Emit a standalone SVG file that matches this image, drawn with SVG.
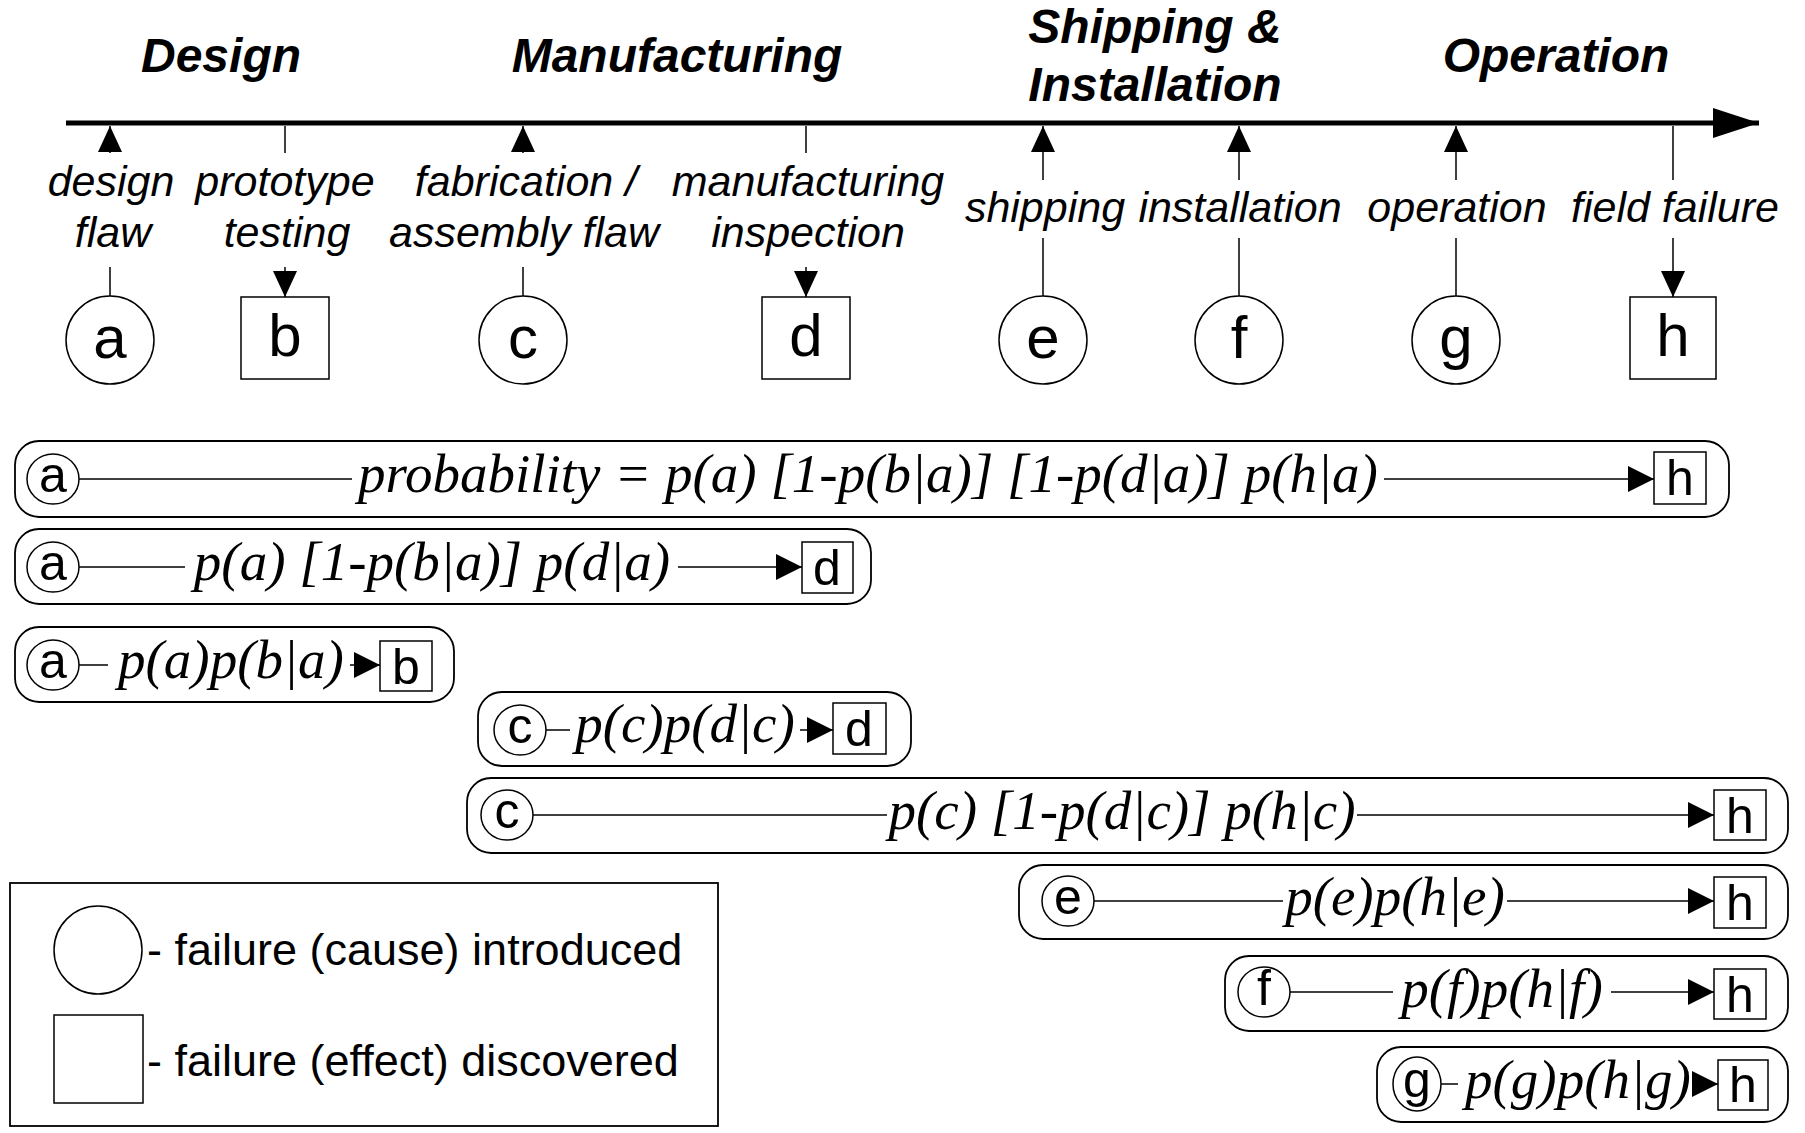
<svg xmlns="http://www.w3.org/2000/svg" width="1805" height="1133" viewBox="0 0 1805 1133">
<style>
.bg{fill:#fff}
.title{font-family:"Liberation Sans",Arial,sans-serif;font-weight:bold;font-style:italic;font-size:48px;fill:#000;text-anchor:middle}
.lbl{font-family:"Liberation Sans",Arial,sans-serif;font-style:italic;font-size:43px;fill:#000;text-anchor:middle}
.node{fill:#fff;stroke:#000;stroke-width:1.5}
.nlet{font-family:"Liberation Sans",Arial,sans-serif;font-size:60px;fill:#000;text-anchor:middle}
.slet{font-family:"Liberation Sans",Arial,sans-serif;font-size:50px;fill:#000;text-anchor:middle}
.box{fill:none;stroke:#000;stroke-width:1.8}
.fml{font-family:"Liberation Serif","Times New Roman",serif;font-style:italic;font-size:55px;fill:#000;text-anchor:middle}
.leg{font-family:"Liberation Sans",Arial,sans-serif;font-size:45px;fill:#000}
.ln{stroke:#000;stroke-width:1.5;fill:none}
.tl{stroke:#000;stroke-width:5;fill:none}
</style>
<defs>
<marker id="big" markerUnits="userSpaceOnUse" markerWidth="46" markerHeight="30" refX="46" refY="15" orient="auto"><path d="M0,0 L46,15 L0,30 z" fill="#000"/></marker>
<marker id="ah" markerUnits="userSpaceOnUse" markerWidth="26" markerHeight="24" refX="26" refY="12" orient="auto"><path d="M0,0 L26,12 L0,24 z" fill="#000"/></marker>
<marker id="sh" markerUnits="userSpaceOnUse" markerWidth="26" markerHeight="26" refX="26" refY="13" orient="auto"><path d="M0,0 L26,13 L0,26 z" fill="#000"/></marker>
</defs>
<rect class="bg" x="0" y="0" width="1805" height="1133"/>

<g id="phases">
<text class="title" x="221" y="72">Design</text>
<text class="title" x="677" y="72">Manufacturing</text>
<text class="title" x="1155" y="43">Shipping &amp;</text>
<text class="title" x="1155" y="101">Installation</text>
<text class="title" x="1556" y="72">Operation</text>
</g>

<g id="labels">
<text class="lbl" x="111" y="196">design</text>
<text class="lbl" x="113" y="247">flaw</text>
<text class="lbl" x="285" y="196">prototype</text>
<text class="lbl" x="287" y="247">testing</text>
<text class="lbl" x="526" y="196">fabrication /</text>
<text class="lbl" x="524" y="247">assembly flaw</text>
<text class="lbl" x="808" y="196">manufacturing</text>
<text class="lbl" x="808" y="247">inspection</text>
<text class="lbl" x="1045" y="222">shipping</text>
<text class="lbl" x="1240" y="222">installation</text>
<text class="lbl" x="1457" y="222">operation</text>
<text class="lbl" x="1675" y="222">field failure</text>
</g>

<g id="node-a"><circle class="node" cx="110" cy="340" r="44"/><text class="nlet" x="110" y="358">a</text></g>
<g id="node-b"><rect class="node" x="241" y="297" width="88" height="82"/><text class="nlet" x="285" y="356">b</text></g>
<g id="node-c"><circle class="node" cx="523" cy="340" r="44"/><text class="nlet" x="523" y="358">c</text></g>
<g id="node-d"><rect class="node" x="762" y="297" width="88" height="82"/><text class="nlet" x="806" y="356">d</text></g>
<g id="node-e"><circle class="node" cx="1043" cy="340" r="44"/><text class="nlet" x="1043" y="358">e</text></g>
<g id="node-f"><circle class="node" cx="1239" cy="340" r="44"/><text class="nlet" x="1239" y="358">f</text></g>
<g id="node-g"><circle class="node" cx="1456" cy="340" r="44"/><text class="nlet" x="1456" y="358">g</text></g>
<g id="node-h"><rect class="node" x="1630" y="297" width="86" height="82"/><text class="nlet" x="1673" y="356">h</text></g>

<g id="formula-1">
<rect class="box" x="15" y="441" width="1714" height="76" rx="24"/>
<ellipse class="node" cx="53" cy="479" rx="26" ry="25"/><text class="slet" x="53" y="492">a</text>
<rect class="node" x="1654" y="452" width="52" height="52"/><text class="slet" x="1680" y="495">h</text>
<text class="fml" x="868" y="492">probability = p(a) [1-p(b|a)] [1-p(d|a)] p(h|a)</text>
</g>
<g id="formula-2">
<rect class="box" x="15" y="529" width="856" height="75" rx="24"/>
<ellipse class="node" cx="53" cy="567" rx="26" ry="25"/><text class="slet" x="53" y="580">a</text>
<rect class="node" x="802" y="542" width="51" height="51"/><text class="slet" x="827" y="585">d</text>
<text class="fml" x="432" y="580">p(a) [1-p(b|a)] p(d|a)</text>
</g>
<g id="formula-3">
<rect class="box" x="15" y="627" width="439" height="75" rx="24"/>
<ellipse class="node" cx="53" cy="665" rx="26" ry="25"/><text class="slet" x="53" y="678">a</text>
<rect class="node" x="380" y="641" width="52" height="50"/><text class="slet" x="406" y="684">b</text>
<text class="fml" x="231" y="678">p(a)p(b|a)</text>
</g>
<g id="formula-4">
<rect class="box" x="478" y="692" width="433" height="74" rx="24"/>
<ellipse class="node" cx="520" cy="730" rx="26" ry="25"/><text class="slet" x="520" y="743">c</text>
<rect class="node" x="833" y="703" width="53" height="51"/><text class="slet" x="859" y="746">d</text>
<text class="fml" x="685" y="742">p(c)p(d|c)</text>
</g>
<g id="formula-5">
<rect class="box" x="467" y="778" width="1321" height="75" rx="24"/>
<ellipse class="node" cx="507" cy="815" rx="26" ry="25"/><text class="slet" x="507" y="828">c</text>
<rect class="node" x="1714" y="790" width="52" height="50"/><text class="slet" x="1740" y="833">h</text>
<text class="fml" x="1122" y="829">p(c) [1-p(d|c)] p(h|c)</text>
</g>
<g id="formula-6">
<rect class="box" x="1019" y="865" width="769" height="74" rx="24"/>
<ellipse class="node" cx="1068" cy="901" rx="26" ry="25"/><text class="slet" x="1068" y="914">e</text>
<rect class="node" x="1714" y="877" width="52" height="51"/><text class="slet" x="1740" y="920">h</text>
<text class="fml" x="1395" y="915">p(e)p(h|e)</text>
</g>
<g id="formula-7">
<rect class="box" x="1225" y="956" width="563" height="75" rx="24"/>
<ellipse class="node" cx="1264" cy="992" rx="26" ry="25"/><text class="slet" x="1264" y="1005">f</text>
<rect class="node" x="1714" y="969" width="52" height="50"/><text class="slet" x="1740" y="1012">h</text>
<text class="fml" x="1502" y="1007">p(f)p(h|f)</text>
</g>
<g id="formula-8">
<rect class="box" x="1377" y="1047" width="411" height="75" rx="24"/>
<ellipse class="node" cx="1417" cy="1084" rx="24" ry="27"/><text class="slet" x="1417" y="1097">g</text>
<rect class="node" x="1718" y="1060" width="50" height="50"/><text class="slet" x="1743" y="1102">h</text>
<text class="fml" x="1578" y="1098">p(g)p(h|g)</text>
</g>

<g id="legend">
<rect class="box" x="10" y="883" width="708" height="243"/>
<circle class="node" cx="98" cy="950" r="44"/>
<rect class="node" x="54" y="1015" width="89" height="88"/>
<text class="leg" x="147" y="965">- failure (cause) introduced</text>
<text class="leg" x="147" y="1076">- failure (effect) discovered</text>
</g>

<g id="connectors">
<line class="tl" x1="66" y1="123" x2="1759" y2="123" marker-end="url(#big)"/>
<line class="ln" x1="110" y1="153" x2="110" y2="126" marker-end="url(#ah)"/>
<line class="ln" x1="285" y1="126" x2="285" y2="153"/>
<line class="ln" x1="523" y1="153" x2="523" y2="126" marker-end="url(#ah)"/>
<line class="ln" x1="806" y1="126" x2="806" y2="153"/>
<line class="ln" x1="1043" y1="180" x2="1043" y2="126" marker-end="url(#ah)"/>
<line class="ln" x1="1239" y1="180" x2="1239" y2="126" marker-end="url(#ah)"/>
<line class="ln" x1="1456" y1="180" x2="1456" y2="126" marker-end="url(#ah)"/>
<line class="ln" x1="1673" y1="126" x2="1673" y2="180"/>
<line class="ln" x1="110" y1="267" x2="110" y2="296"/>
<line class="ln" x1="285" y1="267" x2="285" y2="297" marker-end="url(#ah)"/>
<line class="ln" x1="523" y1="267" x2="523" y2="296"/>
<line class="ln" x1="806" y1="267" x2="806" y2="297" marker-end="url(#ah)"/>
<line class="ln" x1="1043" y1="238" x2="1043" y2="296"/>
<line class="ln" x1="1239" y1="238" x2="1239" y2="296"/>
<line class="ln" x1="1456" y1="238" x2="1456" y2="296"/>
<line class="ln" x1="1673" y1="238" x2="1673" y2="297" marker-end="url(#ah)"/>

<line class="ln" x1="79" y1="479" x2="352" y2="479"/>
<line class="ln" x1="1384" y1="479" x2="1654" y2="479" marker-end="url(#sh)"/>
<line class="ln" x1="79" y1="567" x2="185" y2="567"/>
<line class="ln" x1="678" y1="567" x2="802" y2="567" marker-end="url(#sh)"/>
<line class="ln" x1="79" y1="665" x2="108" y2="665"/>
<line class="ln" x1="350" y1="665" x2="380" y2="665" marker-end="url(#sh)"/>
<line class="ln" x1="546" y1="730" x2="570" y2="730"/>
<line class="ln" x1="800" y1="730" x2="833" y2="730" marker-end="url(#sh)"/>
<line class="ln" x1="533" y1="815" x2="887" y2="815"/>
<line class="ln" x1="1357" y1="815" x2="1714" y2="815" marker-end="url(#sh)"/>
<line class="ln" x1="1094" y1="901" x2="1283" y2="901"/>
<line class="ln" x1="1507" y1="901" x2="1714" y2="901" marker-end="url(#sh)"/>
<line class="ln" x1="1290" y1="992" x2="1393" y2="992"/>
<line class="ln" x1="1611" y1="992" x2="1714" y2="992" marker-end="url(#sh)"/>
<line class="ln" x1="1441" y1="1084" x2="1458" y2="1084"/>
<line class="ln" x1="1695" y1="1084" x2="1718" y2="1084" marker-end="url(#sh)"/>
</g>
</svg>
